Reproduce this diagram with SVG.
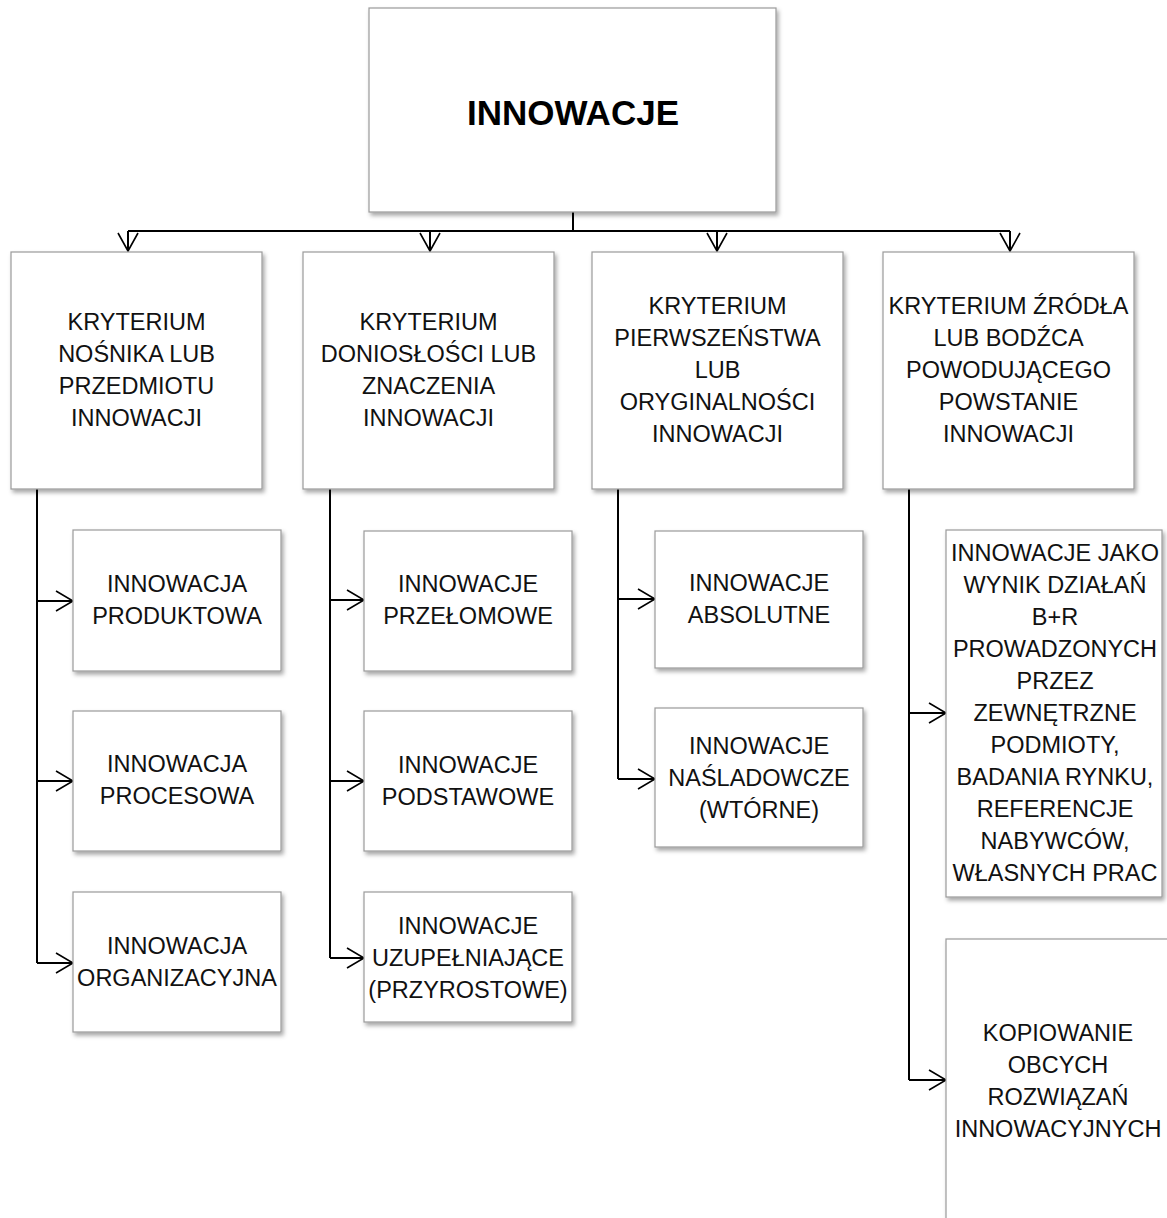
<svg xmlns="http://www.w3.org/2000/svg" width="1167" height="1218" viewBox="0 0 1167 1218">
  <style>
    .box { fill: #ffffff; stroke: #9a9a9a; stroke-width: 1.2; filter: url(#shadow); }
    .lbl { font-family: "Liberation Sans", Arial, sans-serif; font-size: 23.5px; fill: #111111; text-anchor: middle; }
    .title { font-family: "Liberation Sans", Arial, sans-serif; font-size: 35px; font-weight: bold; fill: #000000; text-anchor: middle; }
    .wire { fill: none; stroke: #000000; stroke-width: 2; }
    .tip { fill: none; stroke: #000000; stroke-width: 1.6; stroke-linejoin: miter; }
  </style>
  <defs>
    <filter id="shadow" x="-10%" y="-10%" width="125%" height="125%">
      <feDropShadow dx="2" dy="3" stdDeviation="2" flood-color="#000000" flood-opacity="0.35"/>
    </filter>
  </defs>

  <rect width="1167" height="1218" fill="#ffffff"/>

  <!-- connectors -->
  <g id="connectors">
    <!-- root to criteria -->
    <path class="wire" d="M573 212 V231 M128 231 H1010 M128 231 V250 M430 231 V250 M717 231 V250 M1010 231 V250"/>
    <path class="tip" d="M118 233 L128 251 L138 233 M420 233 L430 251 L440 233 M707 233 L717 251 L727 233 M1000 233 L1010 251 L1020 233"/>
    <!-- column 1 -->
    <path class="wire" d="M37 489 V963 M37 601 H73 M37 781 H73 M37 963 H73"/>
    <path class="tip" d="M56 591 L73 601 L56 611 M56 771 L73 781 L56 791 M56 953 L73 963 L56 973"/>
    <!-- column 2 -->
    <path class="wire" d="M330 489 V958 M330 600 H364 M330 781 H364 M330 958 H364"/>
    <path class="tip" d="M347 590 L364 600 L347 610 M347 771 L364 781 L347 791 M347 948 L364 958 L347 968"/>
    <!-- column 3 -->
    <path class="wire" d="M618 489 V779 M618 599 H655 M618 779 H655"/>
    <path class="tip" d="M638 589 L655 599 L638 609 M638 769 L655 779 L638 789"/>
    <!-- column 4 -->
    <path class="wire" d="M909 489 V1080 M909 713 H946 M909 1080 H946"/>
    <path class="tip" d="M929 703 L946 713 L929 723 M929 1070 L946 1080 L929 1090"/>
  </g>

  <!-- root -->
  <g id="node-root">
    <rect class="box" x="369" y="8" width="407" height="204"/>
    <text class="title" x="573" y="125">INNOWACJE</text>
  </g>

  <!-- criteria -->
  <g id="node-k1">
    <rect class="box" x="11" y="252" width="251" height="237"/>
    <text class="lbl"><tspan x="136.5" y="330">KRYTERIUM</tspan><tspan x="136.5" y="362">NOŚNIKA LUB</tspan><tspan x="136.5" y="394">PRZEDMIOTU</tspan><tspan x="136.5" y="426">INNOWACJI</tspan></text>
  </g>
  <g id="node-k2">
    <rect class="box" x="303" y="252" width="251" height="237"/>
    <text class="lbl"><tspan x="428.5" y="330">KRYTERIUM</tspan><tspan x="428.5" y="362">DONIOSŁOŚCI LUB</tspan><tspan x="428.5" y="394">ZNACZENIA</tspan><tspan x="428.5" y="426">INNOWACJI</tspan></text>
  </g>
  <g id="node-k3">
    <rect class="box" x="592" y="252" width="251" height="237"/>
    <text class="lbl"><tspan x="717.5" y="314">KRYTERIUM</tspan><tspan x="717.5" y="346">PIERWSZEŃSTWA</tspan><tspan x="717.5" y="378">LUB</tspan><tspan x="717.5" y="410">ORYGINALNOŚCI</tspan><tspan x="717.5" y="442">INNOWACJI</tspan></text>
  </g>
  <g id="node-k4">
    <rect class="box" x="883" y="252" width="251" height="237"/>
    <text class="lbl"><tspan x="1008.5" y="314">KRYTERIUM ŹRÓDŁA</tspan><tspan x="1008.5" y="346">LUB BODŹCA</tspan><tspan x="1008.5" y="378">POWODUJĄCEGO</tspan><tspan x="1008.5" y="410">POWSTANIE</tspan><tspan x="1008.5" y="442">INNOWACJI</tspan></text>
  </g>

  <!-- column 1 items -->
  <g id="node-produktowa">
    <rect class="box" x="73" y="530" width="208" height="141"/>
    <text class="lbl"><tspan x="177" y="592">INNOWACJA</tspan><tspan x="177" y="624">PRODUKTOWA</tspan></text>
  </g>
  <g id="node-procesowa">
    <rect class="box" x="73" y="711" width="208" height="140"/>
    <text class="lbl"><tspan x="177" y="772">INNOWACJA</tspan><tspan x="177" y="804">PROCESOWA</tspan></text>
  </g>
  <g id="node-organizacyjna">
    <rect class="box" x="73" y="892" width="208" height="140"/>
    <text class="lbl"><tspan x="177" y="954">INNOWACJA</tspan><tspan x="177" y="986">ORGANIZACYJNA</tspan></text>
  </g>

  <!-- column 2 items -->
  <g id="node-przelomowe">
    <rect class="box" x="364" y="531" width="208" height="140"/>
    <text class="lbl"><tspan x="468" y="592">INNOWACJE</tspan><tspan x="468" y="624">PRZEŁOMOWE</tspan></text>
  </g>
  <g id="node-podstawowe">
    <rect class="box" x="364" y="711" width="208" height="140"/>
    <text class="lbl"><tspan x="468" y="773">INNOWACJE</tspan><tspan x="468" y="805">PODSTAWOWE</tspan></text>
  </g>
  <g id="node-uzupelniajace">
    <rect class="box" x="364" y="892" width="208" height="130"/>
    <text class="lbl"><tspan x="468" y="934">INNOWACJE</tspan><tspan x="468" y="966">UZUPEŁNIAJĄCE</tspan><tspan x="468" y="998">(PRZYROSTOWE)</tspan></text>
  </g>

  <!-- column 3 items -->
  <g id="node-absolutne">
    <rect class="box" x="655" y="531" width="208" height="137"/>
    <text class="lbl"><tspan x="759" y="591">INNOWACJE</tspan><tspan x="759" y="623">ABSOLUTNE</tspan></text>
  </g>
  <g id="node-nasladowcze">
    <rect class="box" x="655" y="708" width="208" height="139"/>
    <text class="lbl"><tspan x="759" y="754">INNOWACJE</tspan><tspan x="759" y="786">NAŚLADOWCZE</tspan><tspan x="759" y="818">(WTÓRNE)</tspan></text>
  </g>

  <!-- column 4 items -->
  <g id="node-br">
    <rect class="box" x="946" y="530" width="216" height="367"/>
    <text class="lbl"><tspan x="1055" y="561">INNOWACJE JAKO</tspan><tspan x="1055" y="593">WYNIK DZIAŁAŃ</tspan><tspan x="1055" y="625">B+R</tspan><tspan x="1055" y="657">PROWADZONYCH</tspan><tspan x="1055" y="689">PRZEZ</tspan><tspan x="1055" y="721">ZEWNĘTRZNE</tspan><tspan x="1055" y="753">PODMIOTY,</tspan><tspan x="1055" y="785">BADANIA RYNKU,</tspan><tspan x="1055" y="817">REFERENCJE</tspan><tspan x="1055" y="849">NABYWCÓW,</tspan><tspan x="1055" y="881">WŁASNYCH PRAC</tspan></text>
  </g>
  <g id="node-kopiowanie">
    <rect class="box" x="946" y="939" width="240" height="300"/>
    <text class="lbl"><tspan x="1058" y="1041">KOPIOWANIE</tspan><tspan x="1058" y="1073">OBCYCH</tspan><tspan x="1058" y="1105">ROZWIĄZAŃ</tspan><tspan x="1058" y="1137">INNOWACYJNYCH</tspan></text>
  </g>
</svg>
